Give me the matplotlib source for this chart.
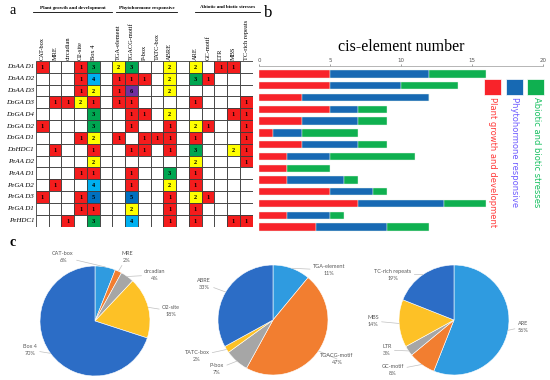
import matplotlib
matplotlib.use('Agg')
import matplotlib.pyplot as plt
from matplotlib.patches import Rectangle
from matplotlib.lines import Line2D
from matplotlib.transforms import Affine2D
import numpy as np

# ---- data ----
columns = ['CAT-box', 'MRE', 'circadian', 'O2-site', 'Box 4', '',
           'TGA-element', 'TGACG-motif', 'P-box', 'TATC-box', 'ABRE', '',
           'ARE', 'GC-motif', 'LTR', 'MBS', 'TC-rich repeats']
genes = ['DoAA D1', 'DoAA D2', 'DoAA D3', 'DoGA D3', 'DoGA D4', 'DoGA D2',
         'DoGA D1', 'DoHDC1', 'PeAA D2', 'PeAA D1', 'PeGA D2', 'PeGA D3',
         'PeGA D1', 'PeHDC1']
counts = [
    [1, 0, 0, 1, 3, 0, 2, 3, 0, 0, 2, 0, 2, 0, 1, 1, 0],
    [0, 0, 0, 1, 4, 0, 1, 1, 1, 0, 2, 0, 3, 1, 0, 0, 0],
    [0, 0, 0, 1, 2, 0, 1, 6, 0, 0, 2, 0, 0, 0, 0, 0, 0],
    [0, 1, 1, 2, 1, 0, 1, 1, 0, 0, 0, 0, 1, 0, 0, 0, 1],
    [0, 0, 0, 0, 3, 0, 0, 1, 1, 0, 2, 0, 0, 0, 0, 1, 1],
    [1, 0, 0, 0, 3, 0, 0, 1, 0, 0, 1, 0, 2, 1, 0, 0, 1],
    [0, 0, 0, 1, 2, 0, 1, 0, 1, 1, 1, 0, 1, 0, 0, 0, 1],
    [0, 1, 0, 0, 1, 0, 0, 1, 1, 0, 1, 0, 3, 0, 0, 2, 1],
    [0, 0, 0, 0, 2, 0, 0, 0, 0, 0, 0, 0, 2, 0, 0, 0, 1],
    [0, 0, 0, 1, 1, 0, 0, 1, 0, 0, 3, 0, 1, 0, 0, 0, 0],
    [0, 1, 0, 0, 4, 0, 0, 1, 0, 0, 2, 0, 1, 0, 0, 0, 0],
    [1, 0, 0, 1, 5, 0, 0, 5, 0, 0, 1, 0, 2, 1, 0, 0, 0],
    [0, 0, 0, 1, 1, 0, 0, 2, 0, 0, 1, 0, 1, 0, 0, 0, 0],
    [0, 0, 1, 0, 3, 0, 0, 4, 0, 0, 1, 0, 1, 0, 0, 1, 1],
]
groups = ['Plant growth and development', 'Phytohormone responsive',
          'Abiotic and biotic stresses']

plant = [5, 5, 3, 5, 3, 1, 3, 2, 2, 2, 5, 7, 2, 4]
phyto = [7, 5, 9, 2, 4, 2, 4, 3, 0, 4, 3, 6, 3, 5]
abiotic = [4, 4, 0, 2, 2, 4, 2, 6, 3, 1, 1, 3, 1, 3]

pie1_names = ['CAT-box', 'MRE', 'circadian', 'O2-site', 'Box 4']
pie1_pct = [6, 2, 4, 18, 70]
pie2_names = ['TGA-element', 'TGACG-motif', 'P-box', 'TATC-box', 'ABRE']
pie2_pct = [11, 47, 7, 2, 33]
pie3_names = ['ARE', 'GC-motif', 'LTR', 'MBS', 'TC-rich repeats']
pie3_pct = [56, 8, 3, 14, 19]

# ---- styles ----
cell_colors = {1: '#f41c1c', 2: '#ffff00', 3: '#00a651', 4: '#00b0f0',
               5: '#0070c0', 6: '#7030a0'}
bar_colors = ['#f8232a', '#1769b3', '#0fb050']
text_colors = ['#ff3b3b', '#6f5cff', '#17c060']
pie_colors = ['#2f9be0', '#f27e30', '#a6a6a6', '#fdc126', '#2c6dc6']

W, H = 550, 380
fig = plt.figure(figsize=(5.5, 3.8), dpi=100)
px = Affine2D().scale(1 / W, -1 / H).translate(0, 1) + fig.transFigure


def box(x, y, w, h):
    return [x / W, 1 - (y + h) / H, w / W, h / H]


SERIF = 'Liberation Serif'

# ---- panel a: table ----
ax_t = fig.add_axes(box(36, 61, 216.5, 165.5))
ax_t.set_xlim(0, len(columns))
ax_t.set_ylim(len(genes), 0)
ax_t.axis('off')
for r, row in enumerate(counts):
    for c, v in enumerate(row):
        ax_t.add_patch(Rectangle((c, r), 1, 1, facecolor=cell_colors.get(v, 'white'),
                                 edgecolor='#3a3a3a', linewidth=0.6))
        if v:
            ax_t.text(c + 0.5, r + 0.55, str(v), ha='center', va='center',
                      fontsize=4.5, family=SERIF, fontweight='bold')
    ax_t.text(-0.15, r + 0.5, genes[r], ha='right', va='center', fontsize=5,
              family=SERIF, style='italic')
for c, name in enumerate(columns):
    if name:
        ax_t.text(c + 0.5, -0.12, name, rotation=90, ha='center', va='bottom',
                  fontsize=4.6, family=SERIF)

for name, (x0, x1) in zip(groups, [(33, 112), (116, 177), (195, 260)]):
    fig.text((x0 + x1) / 2, 7.5, name, transform=px, ha='center', va='center',
             fontsize=3.6, family=SERIF, fontweight='bold')
    fig.add_artist(Line2D([x0, x1], [12, 12], transform=px, color='black', lw=0.6))

fig.text(10, 11, 'a', transform=px, fontsize=10, family=SERIF, va='center')
fig.text(264, 13, 'b', transform=px, fontsize=12, family=SERIF, va='center')
fig.text(9, 242, 'c', transform=px, fontsize=10, family=SERIF, va='center',
         fontweight='bold')

# ---- panel b: stacked bars ----
ax_b = fig.add_axes(box(259, 66, 284, 167))
y = np.arange(len(genes))
left = np.zeros(len(genes))
for vals, col in zip([plant, phyto, abiotic], bar_colors):
    ax_b.barh(y, vals, left=left, height=0.62, color=col, edgecolor='#e8f5e8',
              linewidth=0.3)
    left += np.array(vals)
ax_b.set_xlim(0, 20)
ax_b.set_ylim(len(genes) - 0.5, -0.68)
ax_b.set_xticks([0, 5, 10, 15, 20])
ax_b.set_yticks([])
ax_b.xaxis.tick_top()
ax_b.tick_params(axis='x', labelsize=4, length=1.5, width=0.4, pad=1,
                 colors='#555555')
for s in ['right', 'bottom', 'left']:
    ax_b.spines[s].set_visible(False)
ax_b.spines['top'].set_color('#999999')
ax_b.spines['top'].set_linewidth(0.5)

fig.text(401, 47, 'cis-element number', transform=px, ha='center', va='center',
         fontsize=11.5, family=SERIF)

for i, (name, col, tcol) in enumerate(zip(groups, bar_colors, text_colors)):
    x0 = 484 + i * 21.5
    fig.add_artist(Rectangle((x0, 79), 17, 16, transform=px, facecolor=col,
                             edgecolor='white', linewidth=0.5))
    fig.text(x0 + 9, 97, name, transform=px, rotation=-90, ha='center', va='top',
             fontsize=6.0, color=tcol)

# ---- panel c: pies ----
pies = [
    (pie1_names, pie1_pct, (40, 266),
     [(63, 257), (127, 257), (155, 275), (171, 311), (30, 350)]),
    (pie2_names, pie2_pct, (218, 265),
     [(329, 270), (337, 359), (217, 369), (197, 356), (204, 284)]),
    (pie3_names, pie3_pct, (399, 265),
     [(523, 327), (393, 370), (387, 350), (373, 321), (393, 275)]),
]
for names, pct, (bx, by), label_pos in pies:
    ax = fig.add_axes(box(bx, by, 110, 110))
    ax.pie(pct, colors=pie_colors, startangle=90, counterclock=False,
           wedgeprops=dict(edgecolor='white', linewidth=0.4))
    ax.set_xlim(-1, 1)
    ax.set_ylim(-1, 1)
    ax.set_aspect('equal')
    cum = np.cumsum(pct) - np.array(pct) / 2
    for name, p, mid, (lx, ly) in zip(names, pct, cum, label_pos):
        th = np.deg2rad(90 - 360 * mid / 100)
        ax.annotate(f'{name}\n{p}%', xy=(np.cos(th), np.sin(th)), xytext=(lx, ly),
                    textcoords=px, ha='center', va='center', fontsize=4,
                    family='Lato', color='#595959', linespacing=1.3,
                    arrowprops=dict(arrowstyle='-', color='#c0c0c0', lw=0.5,
                                    shrinkA=0, shrinkB=0))

fig.savefig('out.png', dpi=100)
